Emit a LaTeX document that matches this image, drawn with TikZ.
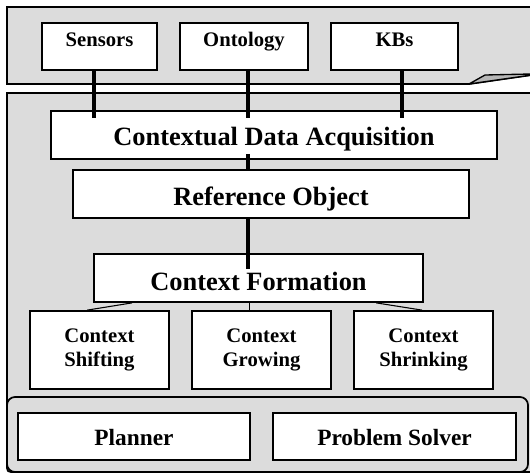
\documentclass[tikz,border=0pt]{standalone}
\usepackage{fontspec}
\setmainfont{Liberation Serif}
\usetikzlibrary{calc}
\definecolor{panelgray}{RGB}{220,220,220}
\definecolor{foldgray}{RGB}{182,182,182}
\tikzset{
  box/.style={draw=black, line width=1.3pt, fill=white, inner sep=0pt, align=center},
  sz/.style 2 args={minimum width={#1*0.75pt}, minimum height={#2*0.75pt}},
  smallfont/.style={font=\fontsize{15.5}{18}\selectfont\bfseries},
  midfont/.style={font=\fontsize{17.5}{20}\selectfont\bfseries},
  bigfont/.style={font=\fontsize{19.8}{22}\selectfont\bfseries},
  panel/.style={fill=panelgray, draw=black, line width=1.3pt},
  bus/.style={line width=3pt},
  link/.style={line width=0.8pt},
}
\begin{document}
\begin{tikzpicture}[x=0.75pt, y=-0.75pt]
\useasboundingbox (0,0) rectangle (530,474);
\clip (0,0) rectangle (530,474);

% upper panel with curled corner
\path[panel] (7,7) -- (540,7) -- (540,73.8) -- (469,84) -- (7,84) -- cycle;
\path[fill=foldgray, draw=black, line width=1pt, line join=round]
  (469,84) -- (485,75) -- (540,73.8) -- cycle;

% main panel
\fill[panelgray] (540,93) -- (7,93) -- (7,464) .. controls (7,472) .. (15,472) -- (540,472) -- cycle;
\draw[line width=1.3pt] (540,93) -- (7,93) -- (7,464) .. controls (7,472) .. (15,472) -- (540,472);

% lower panel
\draw[panel, rounded corners=6pt] (7,397) rectangle (528,472);

% sources
\node[box, smallfont, sz={115}{47}, text height=11pt, text depth=11pt] (sens) at (99.5,46.5) {Sensors};
\node[box, smallfont, sz={128}{47}, text height=11pt, text depth=11pt] (onto) at (244,46.5) {Ontology};
\node[box, smallfont, sz={127}{47}, text height=11pt, text depth=11pt] (kbs) at (394.5,46.5) {KBs};

% processing chain
\node[box, bigfont, sz={446}{48}, text height=15pt, text depth=0pt] (cda) at (274,135) {Contextual Data Acquisition};
\node[box, bigfont, sz={396}{48}, text height=16.5pt, text depth=0pt] (ref) at (271,194) {Reference Object};
\node[box, bigfont, sz={329}{48}, text height=18pt, text depth=0pt] (cf) at (258.5,278) {Context Formation};

\node[box, smallfont, sz={139}{78}] (shift) at (99.5,350) {Context\\Shifting};
\node[box, smallfont, sz={139}{78}] (grow) at (261.5,350) {Context\\Growing};
\node[box, smallfont, sz={139}{78}] (shrink) at (423.5,350) {Context\\Shrinking};

\node[box, midfont, sz={232}{47}, text height=12.75pt, text depth=0pt] (plan) at (134,436.5) {Planner};
\node[box, midfont, sz={243}{47}, text height=12.75pt, text depth=0pt] (solver) at (394.5,436.5) {Problem Solver};

% thick connectors
\draw[bus] ($(sens.south west)+(53,0)$) -- ($(cda.north west)+(44,8)$);
\draw[bus] ($(onto.south west)+(69,0)$) -- ($(cda.north west)+(198,8)$);
\draw[bus] ($(kbs.south west)+(72,0)$) -- ($(cda.north west)+(352,8)$);
\draw[bus] ($(cda.south west)+(198,-6)$) -- ($(ref.north west)+(176,0)$);
\draw[bus] ($(ref.south west)+(176,0)$) -- ($(cf.north west)+(155,16)$);

% thin connectors
\draw[link] ($(cf.south west)+(39,0)$) -- ($(shift.north west)+(58,0)$);
\draw[link] ($(cf.south west)+(156,0)$) -- ($(grow.north west)+(58,0)$);
\draw[link] ($(cf.south west)+(283,0)$) -- ($(shrink.north west)+(69,0)$);
\end{tikzpicture}
\end{document}
